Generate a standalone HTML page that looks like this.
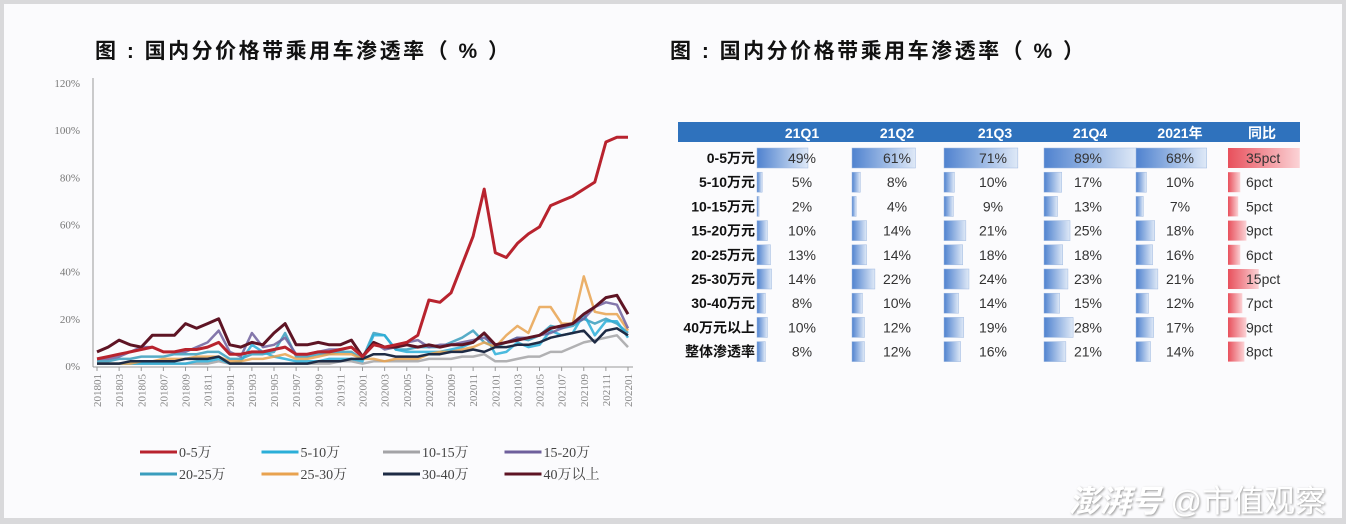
<!DOCTYPE html>
<html><head><meta charset="utf-8">
<style>
body{margin:0;width:1346px;height:524px;overflow:hidden;background:#d9d9db;font-family:"Liberation Sans","Noto Sans CJK SC",sans-serif;}
#page{position:absolute;left:4px;top:4px;width:1338px;height:514px;background:#fbfbfd;}
.title{position:absolute;font-size:21px;font-weight:bold;color:#111;letter-spacing:2.5px;white-space:pre;}
</style></head><body>
<div id="page"></div>
<div class="title" style="left:95px;top:35px">图 : 国内分价格带乘用车渗透率（ % ）</div>
<div class="title" style="left:670px;top:35px">图 : 国内分价格带乘用车渗透率（ % ）</div>
<svg id="chart" width="1346" height="524" style="position:absolute;left:0;top:0"></svg>
<div style="position:absolute;right:20px;top:476px;font-size:31px;color:#fff;text-shadow:1px 1px 2px #999;white-space:nowrap"><i style="font-weight:bold">澎湃号</i> @市值观察</div>
<script>
const months=["201801","201803","201805","201807","201809","201811","201901","201903","201905","201907","201909","201911","202001","202003","202005","202007","202009","202011","202101","202103","202105","202107","202109","202111","202201"];
const yTicks=[0,20,40,60,80,100,120];
const seriesNames=["0-5万","5-10万","10-15万","15-20万","20-25万","25-30万","30-40万","40万以上"];
const seriesColors=["#b8232e","#2aaed8","#a3a3a6","#6e5f9c","#3a9dbd","#e8a24f","#1e2b45","#5e1424"];
const s_0_5=[3,4,5,6,7,8,6,6,7,7,8,10,5,5,6,6,7,8,5,5,6,6,7,8,4,9,8,9,10,13,28,27,31,43,55,75,48,46,52,56,59,68,70,72,75,78,95,97,97];
const s_5_10=[1,1,1,1,1,1,1,1,1,2,2,3,1,2,9,6,4,3,2,2,2,3,3,3,2,13,13,7,6,6,6,6,7,8,10,14,5,6,10,8,9,15,13,14,22,13,19,19,12];
const s_10_15=[1,1,1,1,1,1,1,1,1,1,1,2,1,1,1,1,1,1,1,1,1,1,2,2,1,2,2,2,2,2,3,3,3,4,4,5,2,2,3,4,4,6,6,8,10,11,12,13,8];
const s_15_20=[3,3,4,6,8,8,6,6,6,8,10,15,6,4,14,8,9,12,5,5,6,7,7,8,4,10,7,8,10,11,8,9,9,10,11,12,9,10,12,12,13,14,16,18,20,25,27,26,16];
const s_20_25=[2,2,3,3,4,4,4,5,5,5,6,6,3,3,5,5,6,14,4,4,5,5,6,6,3,14,13,7,7,8,8,8,10,12,15,10,8,10,12,11,13,17,16,17,20,18,20,18,14];
const s_25_30=[1,1,1,1,2,2,3,3,3,4,4,4,2,2,3,3,4,5,3,3,4,5,5,5,3,3,2,3,3,3,5,6,6,7,8,10,8,13,17,14,25,25,18,18,38,23,22,22,15];
const s_30_40=[1,1,1,2,2,2,2,2,3,3,3,4,1,1,1,1,1,1,1,1,2,2,2,3,3,5,5,4,4,4,5,5,6,6,7,6,8,8,9,9,10,12,13,14,15,10,15,16,13];
const s_40p=[6,8,11,9,8,13,13,13,18,16,18,20,9,8,10,9,14,18,9,9,10,9,9,11,4,10,8,8,9,8,9,8,9,9,10,14,9,10,11,12,13,16,17,18,22,25,29,30,22];
const allSeries=[s_0_5,s_5_10,s_10_15,s_15_20,s_20_25,s_25_30,s_30_40,s_40p];
const drawOrder=[2,4,1,5,3,6,7,0];
const NS="http://www.w3.org/2000/svg";
const svg=document.getElementById('chart');
const X0=97,X1=628,Y0=366,YT=83;
const n=s_0_5.length;
function xs(i){return X0+i*(X1-X0)/(n-1);}
function ys(v){return Y0-v*(Y0-YT)/120;}
function mk(t,a){const e=document.createElementNS(NS,t);for(const k in a)e.setAttribute(k,a[k]);svg.appendChild(e);return e;}
let ax=mk('line',{x1:93,y1:78,x2:93,y2:367,stroke:'#999','stroke-width':1});


let bx=mk('line',{x1:93,y1:367,x2:633,y2:367,stroke:'#999','stroke-width':1});


yTicks.forEach(v=>{const t=mk('text',{x:80,y:ys(v)+4,'text-anchor':'end','font-size':11,fill:'#777','font-family':'Liberation Serif,serif'});t.textContent=v+'%';

});
months.forEach((m,k)=>{const x=xs(k*2);
const tk=mk('line',{x1:x,y1:367,x2:x,y2:371,stroke:'#999'});


const t=mk('text',{x:0,y:0,transform:`translate(${x+4},${374}) rotate(-90)`,'text-anchor':'end','font-size':11,fill:'#888','font-family':'Liberation Serif,serif'});t.textContent=m;

});
drawOrder.forEach(si=>{const d=allSeries[si].map((v,i)=>(i?'L':'M')+xs(i).toFixed(1)+' '+ys(v).toFixed(1)).join(' ');
const p=mk('path',{d:d,fill:'none',stroke:seriesColors[si],'stroke-width':si==0||si==7?3:2.5,'stroke-linejoin':'round','stroke-opacity':si==0||si==7||si==6?1:0.85});

});
seriesNames.forEach((nm,i)=>{const lx=140+(i%4)*121.5,ly=452+Math.floor(i/4)*22;
const l=mk('line',{x1:lx,y1:ly,x2:lx+37,y2:ly,stroke:seriesColors[i],'stroke-width':3});


const t=mk('text',{x:lx+39,y:ly+5,'font-size':14,fill:'#444','font-family':'Liberation Serif,Noto Serif CJK SC,serif'});t.textContent=nm;

});

const rowLabels=["0-5万元","5-10万元","10-15万元","15-20万元","20-25万元","25-30万元","30-40万元","40万元以上","整体渗透率"];
const colHeads=["21Q1","21Q2","21Q3","21Q4","2021年","同比"];
const q1=[49,5,2,10,13,14,8,10,8];
const q2=[61,8,4,14,14,22,10,12,12];
const q3=[71,10,9,21,18,24,14,19,16];
const q4=[89,17,13,25,18,23,15,28,21];
const y21=[68,10,7,18,16,21,12,17,14];
const yoy=[35,6,5,9,6,15,7,9,8];
const cols=[q1,q2,q3,q4,y21];
const colX=[757,852,944,1044,1136],colC=[802,897,993,1088,1180];
const hdr=mk('rect',{x:678,y:122,width:622,height:20,fill:'#2f72bd'});


const hc=[802,897,995,1090,1180,1262];
colHeads.forEach((h,i)=>{const t=mk('text',{x:hc[i],y:138,'text-anchor':'middle','font-size':14,'font-weight':'bold',fill:'#fff','font-family':'Liberation Sans,Noto Sans CJK SC,sans-serif'});t.textContent=h;

});
const defs=mk('defs',{});
defs.innerHTML='<linearGradient id="gb" x1="0" x2="1"><stop offset="0" stop-color="#4f82cf"/><stop offset="1" stop-color="#dfe9f7"/></linearGradient><linearGradient id="gr" x1="0" x2="1"><stop offset="0" stop-color="#e8505c"/><stop offset="1" stop-color="#fbd3d6"/></linearGradient>';
rowLabels.forEach((lb,r)=>{const cy=158+r*24.2;
const t=mk('text',{x:755,y:cy+5,'text-anchor':'end','font-size':14,'font-weight':'bold',fill:'#111','font-family':'Liberation Sans,Noto Sans CJK SC,sans-serif'});t.textContent=lb;


cols.forEach((c,ci)=>{const b=mk('rect',{x:colX[ci],y:cy-10,width:Math.max(2,c[r]*1.04),height:20,fill:'url(#gb)',stroke:'#9fb9e0','stroke-width':0.5});


const v=mk('text',{x:colC[ci],y:cy+5,'text-anchor':'middle','font-size':14,fill:'#333'});v.textContent=c[r]+'%';

});
const b=mk('rect',{x:1228,y:cy-10,width:yoy[r]*2.05,height:20,fill:'url(#gr)'});


const v=mk('text',{x:1246,y:cy+5,'font-size':14,fill:'#333'});v.textContent=yoy[r]+'pct';

});
</script>
</body></html>
